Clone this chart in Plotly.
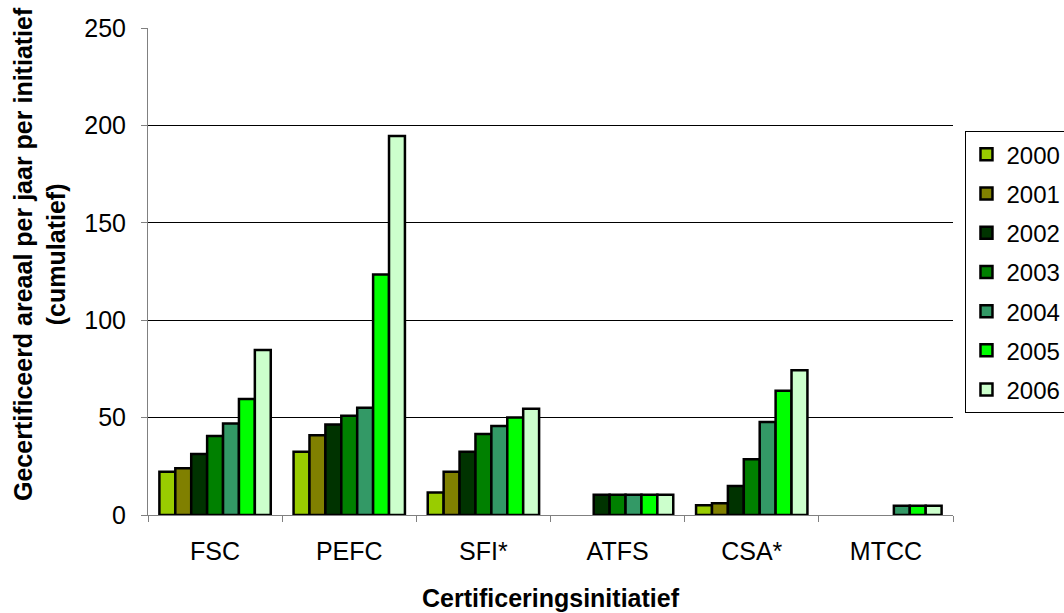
import plotly.graph_objects as go

categories = ["FSC", "PEFC", "SFI*", "ATFS", "CSA*", "MTCC"]
years = ["2000", "2001", "2002", "2003", "2004", "2005", "2006"]
v2000 = [22.2, 32.5, 11.6, None, 5.0, None]
v2001 = [24.0, 41.0, 22.2, None, 6.0, None]
v2002 = [31.3, 46.5, 32.5, 10.4, 14.9, None]
v2003 = [40.5, 51.0, 41.6, 10.4, 28.6, None]
v2004 = [47.0, 55.0, 45.7, 10.4, 47.7, 4.8]
v2005 = [59.5, 123.5, 50.1, 10.4, 63.8, 4.8]
v2006 = [84.7, 194.5, 54.6, 10.4, 74.3, 4.8]
series = [v2000, v2001, v2002, v2003, v2004, v2005, v2006]
colors = ["#99CC00", "#808000", "#003300", "#008000", "#339966", "#00FF00", "#CCFFCC"]
y_title = "Gecertificeerd areaal per jaar per initiatief<br>(cumulatief)"
x_title = "Certificeringsinitiatief"

fig = go.Figure()
for yr, vals, c in zip(years, series, colors):
    fig.add_trace(go.Bar(name=yr, x=categories, y=vals, legendgroup=yr,
                         marker=dict(color=c, line=dict(color="black", width=2.5))))

ff = "Arial, Liberation Sans, sans-serif"
fig.update_layout(
    barmode="group", bargap=0.17, bargroupgap=0,
    width=1064, height=613,
    margin=dict(l=148, r=111, t=28, b=98, autoexpand=False),
    paper_bgcolor="white", plot_bgcolor="white",
    font=dict(family=ff, size=25, color="black"),
    legend=dict(x=1.0155, y=0.788, xanchor="left", yanchor="top", bordercolor="black", borderwidth=1,
                font=dict(family=ff, size=24), tracegroupgap=5, itemwidth=30),
    xaxis=dict(showline=True, linecolor="#808080", linewidth=1, ticks="outside", tickson="boundaries",
               ticklen=6, tickcolor="#808080", ticklabelstandoff=14,
               title=dict(text="<b>" + x_title + "</b>", font=dict(size=25), standoff=25)),
    yaxis=dict(range=[0, 250], dtick=50, showgrid=True, gridcolor="black", gridwidth=1,
               showline=True, linecolor="#808080", linewidth=1, ticks="outside", ticklen=6,
               tickcolor="#808080", zeroline=False, ticklabelstandoff=10),
    annotations=[dict(text="<b>" + y_title + "</b>", textangle=-90, xref="paper", yref="paper",
                      x=(39 - 148) / 805, y=(515 - 254) / 487, xanchor="center", yanchor="middle",
                      showarrow=False, font=dict(family=ff, size=25, color="black"))],
)
fig.write_html("out.html", config={"displayModeBar": False},
               post_script="document.body.style.margin='0';")
